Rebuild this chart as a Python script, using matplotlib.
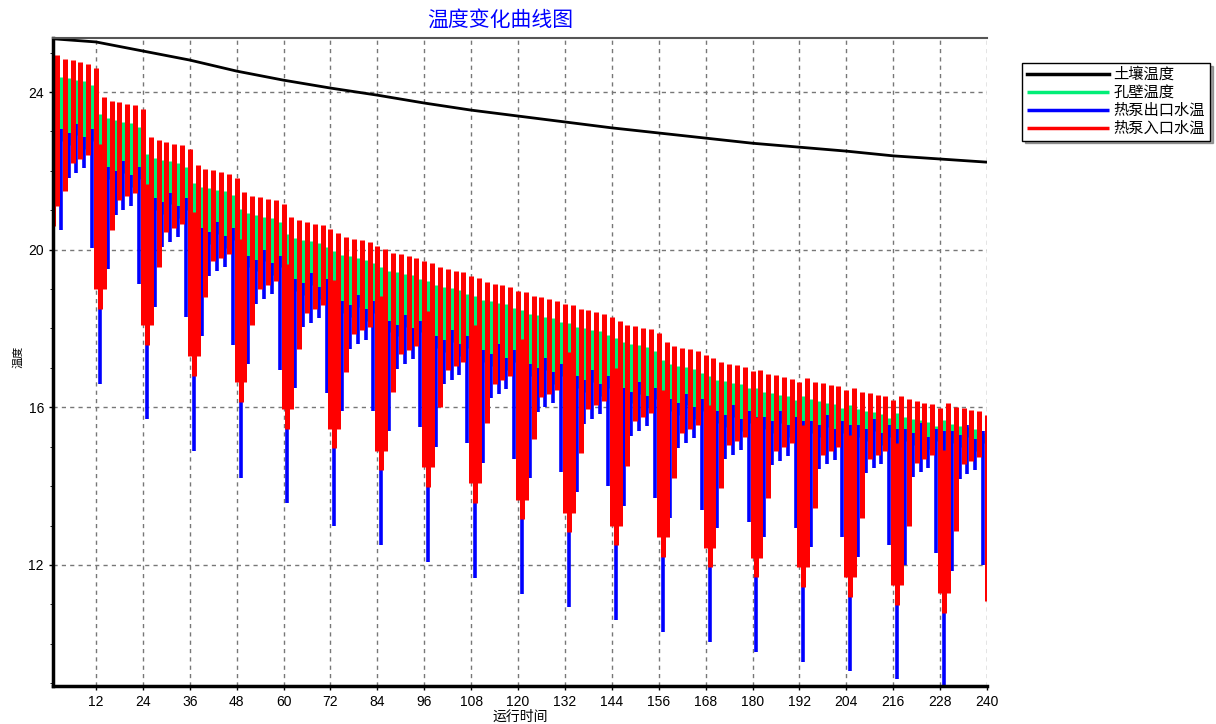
import numpy as np
import matplotlib.pyplot as plt
from matplotlib.ticker import MultipleLocator

plt.rcParams['font.family'] = ['Liberation Sans', 'Noto Sans CJK SC']

# 土壤温度 (every 12 h)
soil_x = [1, 12, 24, 36, 48, 60, 72, 84, 96, 108, 120, 132, 144, 156, 168, 180, 192, 204, 216, 228, 240]
soil_t = [25.35, 25.27, 25.04, 24.81, 24.53, 24.30, 24.10, 23.92, 23.72, 23.54, 23.39,
          23.24, 23.09, 22.96, 22.83, 22.70, 22.60, 22.50, 22.38, 22.30, 22.22]

# one 12 h cycle per entry, cycle p starts at hour 1 + 12p
red_top = [24.94, 23.88, 22.87, 22.15, 21.47, 20.84, 20.42, 20.02, 19.65, 19.28,
           18.93, 18.60, 18.20, 17.65, 17.25, 16.95, 16.75, 16.50, 16.30, 16.12]
red_dip = [20.60, 18.50, 17.58, 16.79, 16.13, 15.46, 14.96, 14.40, 13.98, 13.57,
           13.16, 12.83, 12.50, 12.20, 11.94, 11.69, 11.44, 11.20, 10.98, 10.78]
blue_dip = [18.70, 16.60, 15.70, 14.88, 14.20, 13.58, 13.00, 12.50, 12.08, 11.67,
            11.26, 10.93, 10.60, 10.30, 10.04, 9.79, 9.54, 9.30, 9.10, 8.85]
blue_dip2 = [20.50, 19.50, 18.55, 17.80, 17.10, 16.49, 15.90, 15.40, 15.00, 14.60,
             14.20, 13.85, 13.50, 13.20, 12.95, 12.70, 12.45, 12.20, 12.00, 11.85]
blue_pre = [20.05, 19.13, 18.30, 17.58, 16.95, 16.37, 15.90, 15.50, 15.10, 14.70,
            14.35, 14.00, 13.70, 13.40, 13.10, 12.95, 12.70, 12.50, 12.30, 12.00]
blue_low = [21.95, 21.00, 20.20, 19.45, 18.75, 18.15, 17.60, 17.10, 16.70, 16.35,
            16.00, 15.70, 15.40, 15.10, 14.80, 14.65, 14.55, 14.45, 14.35, 14.30]
# shape of the peaks inside one cycle
red_shape = [0.0, -0.10, -0.14, -0.18, -0.22, -0.32]
red_low_shape = [0.0, 0.0, 0.25, 0.35, 0.45, 0.0]
blue_shape = [0.0, 0.0, -0.12, 0.0, 0.12, 0.0]
blue_top_shape = [0.0, 0.0, 1.0, 1.25, 0.9, 0.0]

xs = {'g': [], 'b': [], 'r': []}
ys = {'g': [], 'b': [], 'r': []}


def seg(key, x, lo, hi):
    xs[key] += [x, x, np.nan]
    ys[key] += [lo, hi, np.nan]


n = len(red_top)
for p in range(n):
    x0 = 1 + 12 * p
    nxt = red_dip[p + 1] if p + 1 < n else red_dip[p] - 0.2
    for j in range(6):
        xo = x0 + 2 * j          # odd hour: pump on
        xe = xo + 1              # even hour: pump off
        top = red_top[p] + red_shape[j]
        if j == 0:
            b_lo = blue_dip[p]
        elif j == 1:
            b_lo = blue_dip2[p]
        elif j == 5:
            b_lo = blue_pre[p]
        else:
            b_lo = blue_low[p] + blue_shape[j]
        b_hi = blue_low[p] + (blue_top_shape[j] if blue_top_shape[j] else 1.1)
        g_lo = (blue_dip[p] + 3.4) if j == 0 else b_hi - 0.3
        seg('g', xo, g_lo, top - 0.45)
        seg('b', xo, b_lo, b_hi)
        if j == 0:
            seg('r', xo, red_dip[p], top - 1.2)
            r_lo = red_dip[p] + 0.5
        elif j == 1:
            r_lo = blue_dip2[p] + 1.0
        elif j == 5:
            r_lo = nxt + 0.5
        else:
            r_lo = blue_low[p] + red_low_shape[j]
        if xe <= 240:
            seg('r', xe, r_lo, top)

fig = plt.figure(figsize=(12.16, 7.24), dpi=100)
ax = fig.add_axes([53 / 1216, 1 - 686 / 724, (987 - 53) / 1216, (686 - 38) / 724])

ax.plot(soil_x, soil_t, color='black', lw=2, label='土壤温度')
ax.plot(xs['g'], ys['g'], color='#00ee77', lw=2.5, solid_capstyle='butt', label='孔壁温度')
ax.plot(xs['b'], ys['b'], color='#0000ff', lw=2.6, solid_capstyle='butt', label='热泵出口水温')
ax.plot(xs['r'], ys['r'], color='#ff0000', lw=3.6, solid_capstyle='butt', label='热泵入口水温')

ax.set_xlim(1, 240)
ax.set_ylim(8.93, 25.37)
ax.set_xticks(range(12, 241, 12))
ax.set_yticks([12, 16, 20, 24])
ax.yaxis.set_minor_locator(MultipleLocator(1))
ax.tick_params(axis='both', labelsize=10, direction='out', length=3, width=1)
ax.tick_params(axis='y', which='minor', length=2)
ax.grid(True, which='major', color='#777777', linestyle=(0, (3, 3)), lw=1)

for s in ['left', 'bottom']:
    ax.spines[s].set_linewidth(2.5)
    ax.spines[s].set_color('black')
ax.spines['top'].set_color('#555555')
ax.spines['top'].set_linewidth(1.5)
ax.spines['right'].set_visible(False)

fig.text(500 / 1216, 1 - 20 / 724, '温度变化曲线图', color='#0000ff', fontsize=15,
         ha='center', va='center', family=['Noto Sans CJK SC'])
fig.text(520 / 1216, 1 - 710 / 724, '运行时间', fontsize=10, ha='center', va='top')
fig.text(18 / 1216, 1 - 357 / 724, '温度', fontsize=8, ha='center', va='center', rotation=90)

leg = fig.legend(loc='upper left', bbox_to_anchor=(1022 / 1216, 1 - 63 / 724), fontsize=11,
                 frameon=True, fancybox=False, shadow=True, edgecolor='black', framealpha=1,
                 handlelength=5.4, handletextpad=0.3, labelspacing=0.25, borderpad=0.3,
                 borderaxespad=0)
leg.get_frame().set_linewidth(1)
for line in leg.get_lines():
    line.set_linewidth(2.5)

fig.savefig('out.png', dpi=100)
